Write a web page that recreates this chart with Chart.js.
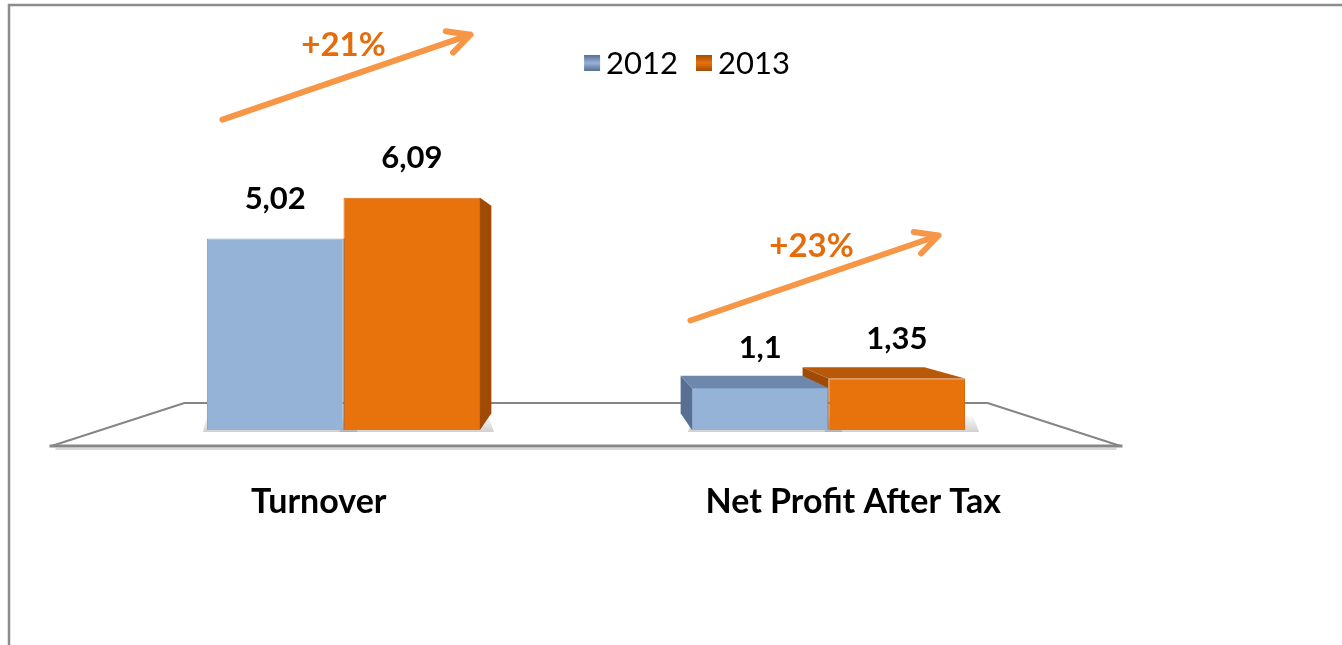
<!DOCTYPE html>
<html>
<head>
<meta charset="utf-8">
<script src="https://cdn.jsdelivr.net/npm/chart.js@4.4.0/dist/chart.umd.min.js"></script>
<style>
  html, body { margin: 0; padding: 0; background: #fff; }
  #wrap { position: relative; width: 1342px; height: 645px; }
</style>
</head>
<body>
<div id="wrap"><canvas id="myChart"></canvas></div>
<script>
const categories = ["Turnover", "Net Profit After Tax"];
const years = ["2012", "2013"];
const values2012 = [5.02, 1.1];
const values2013 = [6.09, 1.35];

const frontColors = ["#95B3D7", "#E8720C"];
const sideColors = ["#566F93", "#A04B05"];
const topColors = ["#6F87AA", "#B8590A"];
const arrowColor = "#F79646";
const growthColor = "#E46C0A";

// where each growth arrow starts, relative to category centre / tallest bar top
const arrowOffsets = [[-121, -78], [-138, -58]];
const arrowVec = [248, -85];

const FONT = "Lato, 'Open Sans', sans-serif";

// simple perspective: everything shrinks toward a vanishing point above the floor
function vanish(area) {
  return { x: (area.left + area.right) / 2, y: area.bottom - 157 };
}
function proj(vp, x, y, s) {
  return [vp.x + (x - vp.x) * s, vp.y + (y - vp.y) * s];
}
function quad(ctx, pts, fill) {
  ctx.beginPath();
  ctx.moveTo(pts[0][0], pts[0][1]);
  for (let i = 1; i < pts.length; i++) ctx.lineTo(pts[i][0], pts[i][1]);
  ctx.closePath();
  ctx.fillStyle = fill;
  ctx.fill();
}

const pseudo3d = {
  id: "pseudo3d",
  beforeDatasetsDraw(chart) {
    const ctx = chart.ctx;
    const a = chart.chartArea;
    const vp = vanish(a);

    // outer frame (top and left only show in the picture)
    ctx.save();
    ctx.strokeStyle = "#8C8C8C";
    ctx.lineWidth = 2.5;
    ctx.beginPath();
    ctx.moveTo(9, 645);
    ctx.lineTo(9, 5);
    ctx.lineTo(1342, 5);
    ctx.stroke();

    // floor
    const fl = proj(vp, a.left, a.bottom, 1.102);
    const fr = proj(vp, a.right, a.bottom, 1.102);
    const bl = proj(vp, a.left, a.bottom, 0.828);
    const br = proj(vp, a.right, a.bottom, 0.828);
    ctx.lineJoin = "round";
    quad(ctx, [fl, fr, br, bl], "#FFFFFF");
    ctx.strokeStyle = "#858585";
    ctx.lineWidth = 2;
    ctx.beginPath();
    ctx.moveTo(fl[0], fl[1]);
    ctx.lineTo(bl[0], bl[1]);
    ctx.lineTo(br[0], br[1]);
    ctx.lineTo(fr[0], fr[1]);
    ctx.stroke();
    ctx.lineWidth = 3;
    ctx.strokeStyle = "#878787";
    ctx.beginPath();
    ctx.moveTo(fl[0] - 2, fl[1]);
    ctx.lineTo(fr[0] + 2, fr[1]);
    ctx.stroke();
    ctx.strokeStyle = "#D8D8D8";
    ctx.lineWidth = 2;
    ctx.beginPath();
    ctx.moveTo(fl[0] + 4, fl[1] + 3);
    ctx.lineTo(fr[0] - 4, fr[1] + 3);
    ctx.stroke();

    // bar extrusions, far ones first
    const bars = [];
    chart.data.datasets.forEach((ds, di) => {
      chart.getDatasetMeta(di).data.forEach(el => {
        bars.push({ di, l: el.x - el.width / 2, r: el.x + el.width / 2, t: el.y, b: el.base, cx: el.x });
      });
    });
    bars.sort((p, q) => Math.abs(q.cx - vp.x) - Math.abs(p.cx - vp.x));
    const s = 0.893;
    bars.forEach(bar => {
      // soft shadow on the floor
      const sh = ctx.createLinearGradient(0, bar.b - 16, 0, bar.b + 2);
      sh.addColorStop(0, "rgba(120,120,120,0)");
      sh.addColorStop(1, "rgba(120,120,120,0.35)");
      quad(ctx, [[bar.l - 4, bar.b + 2], [bar.r + 14, bar.b + 2], [bar.r + 8, bar.b - 14], [bar.l, bar.b - 14]], sh);
      if (bar.r < vp.x) {
        quad(ctx, [[bar.r, bar.t], [bar.r, bar.b], proj(vp, bar.r, bar.b, s), proj(vp, bar.r, bar.t, s)], sideColors[bar.di]);
      } else if (bar.l > vp.x) {
        quad(ctx, [[bar.l, bar.t], [bar.l, bar.b], proj(vp, bar.l, bar.b, s), proj(vp, bar.l, bar.t, s)], sideColors[bar.di]);
      }
      if (bar.t > vp.y) {
        quad(ctx, [[bar.l, bar.t], [bar.r, bar.t], proj(vp, bar.r, bar.t, s), proj(vp, bar.l, bar.t, s)], topColors[bar.di]);
      }
    });
    ctx.restore();
  },
  afterDatasetsDraw(chart) {
    const ctx = chart.ctx;
    const a = chart.chartArea;
    const vp = vanish(a);
    const xs = chart.scales.x;
    const ys = chart.scales.y;
    ctx.save();

    // value labels
    ctx.textAlign = "center";
    ctx.textBaseline = "middle";
    ctx.fillStyle = "#000";
    ctx.font = "bold 31px " + FONT;
    chart.data.datasets.forEach((ds, di) => {
      chart.getDatasetMeta(di).data.forEach((el, i) => {
        ctx.fillText(String(ds.data[i]).replace(".", ","), el.x, el.y - 40);
      });
    });

    // category labels, placed at the projected front of the floor
    ctx.font = "bold 34px " + FONT;
    categories.forEach((c, i) => {
      const p = proj(vp, xs.getPixelForValue(i), a.bottom, 1.102);
      ctx.fillText(c, p[0], p[1] + 56);
    });

    // legend
    ctx.font = "31px " + FONT;
    ctx.textAlign = "left";
    const box = 16, gap = 6, between = 18;
    const widths = years.map(y => box + gap + ctx.measureText(y).width);
    let lx = 687 - (widths[0] + widths[1] + between) / 2;
    const ly = 63;
    years.forEach((y, i) => {
      const g = ctx.createLinearGradient(lx, ly - box / 2, lx, ly + box / 2);
      g.addColorStop(0, sideColors[i]);
      g.addColorStop(0.5, frontColors[i]);
      g.addColorStop(1, sideColors[i]);
      ctx.fillStyle = g;
      ctx.fillRect(lx, ly - box / 2, box, box);
      ctx.fillStyle = "#000";
      ctx.fillText(y, lx + box + gap, ly + 1);
      lx += widths[i] + between;
    });

    // growth arrows
    categories.forEach((c, i) => {
      const top = ys.getPixelForValue(Math.max(values2012[i], values2013[i]));
      const x0 = xs.getPixelForValue(i) + arrowOffsets[i][0];
      const y0 = top + arrowOffsets[i][1];
      const x1 = x0 + arrowVec[0], y1 = y0 + arrowVec[1];
      ctx.strokeStyle = arrowColor;
      ctx.lineWidth = 6;
      ctx.lineCap = "round";
      ctx.lineJoin = "round";
      ctx.beginPath();
      ctx.moveTo(x0, y0);
      ctx.lineTo(x1, y1);
      const ang = Math.atan2(y1 - y0, x1 - x0);
      const wing = 25, spread = 27 * Math.PI / 180;
      ctx.moveTo(x1 - wing * Math.cos(ang - spread), y1 - wing * Math.sin(ang - spread));
      ctx.lineTo(x1, y1);
      ctx.lineTo(x1 - wing * Math.cos(ang + spread), y1 - wing * Math.sin(ang + spread));
      ctx.stroke();

      const pct = Math.round((values2013[i] / values2012[i] - 1) * 100);
      ctx.fillStyle = growthColor;
      ctx.font = "bold 33px " + FONT;
      ctx.textAlign = "center";
      ctx.fillText("+" + pct + "%", (x0 + x1) / 2 - 3, (y0 + y1) / 2 - 32);
    });
    ctx.restore();
  }
};

new Chart("myChart", {
  type: "bar",
  data: {
    labels: categories,
    datasets: [{
      label: years[0],
      data: values2012,
      backgroundColor: frontColors[0],
      borderColor: "#8AA6CB",
      borderWidth: 1
    }, {
      label: years[1],
      data: values2013,
      backgroundColor: frontColors[1],
      borderColor: "#D96A0A",
      borderWidth: 1
    }]
  },
  options: {
    responsive: true,
    maintainAspectRatio: false,
    animation: false,
    layout: { padding: { left: 101, right: 271, top: 163, bottom: 215 } },
    datasets: { bar: { categoryPercentage: 0.563, barPercentage: 1 } },
    scales: {
      x: { display: false },
      y: { display: false, min: 0, max: 7 }
    },
    plugins: {
      legend: { display: false },
      tooltip: { enabled: false }
    }
  },
  plugins: [pseudo3d]
});
</script>
</body>
</html>
